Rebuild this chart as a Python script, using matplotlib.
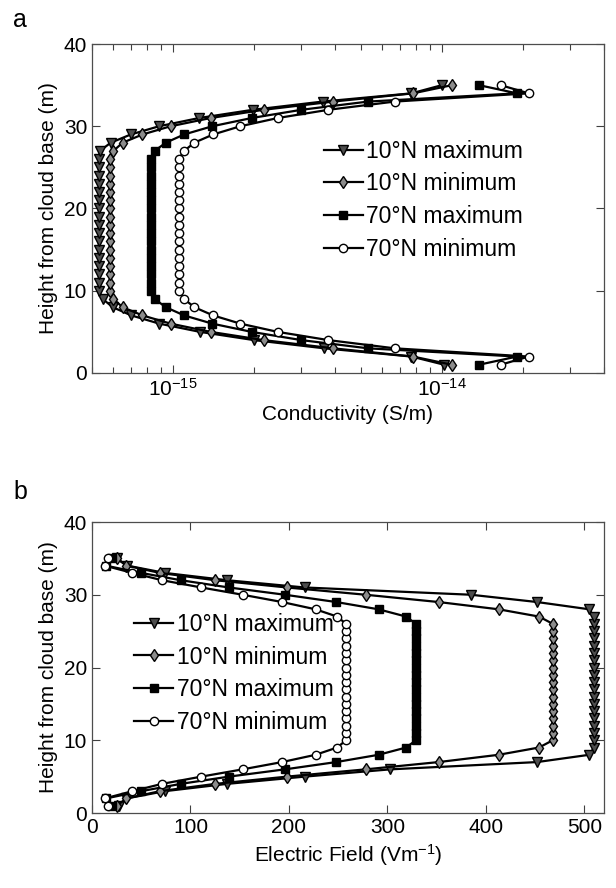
import numpy as np
import matplotlib
matplotlib.use('agg')
import matplotlib.pyplot as plt
from matplotlib.ticker import LogLocator, NullFormatter, FixedLocator

plt.rcParams['font.family'] = ['Liberation Sans', 'DejaVu Sans']
plt.rcParams['mathtext.default'] = 'regular'

height = np.arange(1, 36)  # m above cloud base

# conductivity profiles (S/m)
cond_10n_max = [1.02e-14, 7.7e-15, 3.65e-15, 2.0e-15, 1.26e-15, 8.9e-16, 7.0e-16, 5.97e-16, 5.48e-16,
                5.3e-16, 5.3e-16, 5.3e-16, 5.3e-16, 5.3e-16, 5.3e-16, 5.3e-16, 5.3e-16, 5.3e-16,
                5.3e-16, 5.3e-16, 5.3e-16, 5.3e-16, 5.3e-16, 5.3e-16, 5.3e-16, 5.3e-16,
                5.35e-16, 5.87e-16, 6.97e-16, 8.88e-16, 1.25e-15, 1.98e-15, 3.6e-15, 7.7e-15, 1.0e-14]
cond_10n_min = [1.09e-14, 7.8e-15, 3.94e-15, 2.17e-15, 1.38e-15, 9.8e-16, 7.7e-16, 6.5e-16, 6.0e-16,
                5.83e-16, 5.83e-16, 5.83e-16, 5.83e-16, 5.83e-16, 5.83e-16, 5.83e-16, 5.83e-16, 5.83e-16,
                5.83e-16, 5.83e-16, 5.83e-16, 5.83e-16, 5.83e-16, 5.83e-16, 5.83e-16, 5.83e-16,
                6.0e-16, 6.5e-16, 7.7e-16, 9.8e-16, 1.38e-15, 2.17e-15, 3.94e-15, 7.8e-15, 1.09e-14]
cond_70n_max = [1.37e-14, 1.9e-14, 5.31e-15, 3.0e-15, 1.96e-15, 1.40e-15, 1.10e-15, 9.4e-16, 8.55e-16,
                8.26e-16, 8.26e-16, 8.26e-16, 8.26e-16, 8.26e-16, 8.26e-16, 8.26e-16, 8.26e-16, 8.26e-16,
                8.26e-16, 8.26e-16, 8.26e-16, 8.26e-16, 8.26e-16, 8.26e-16, 8.26e-16, 8.26e-16,
                8.55e-16, 9.4e-16, 1.10e-15, 1.40e-15, 1.96e-15, 3.0e-15, 5.31e-15, 1.9e-14, 1.37e-14]
cond_70n_min = [1.65e-14, 2.1e-14, 6.67e-15, 3.78e-15, 2.45e-15, 1.78e-15, 1.41e-15, 1.20e-15, 1.10e-15,
                1.05e-15, 1.05e-15, 1.05e-15, 1.05e-15, 1.05e-15, 1.05e-15, 1.05e-15, 1.05e-15, 1.05e-15,
                1.05e-15, 1.05e-15, 1.05e-15, 1.05e-15, 1.05e-15, 1.05e-15, 1.05e-15, 1.05e-15,
                1.10e-15, 1.20e-15, 1.41e-15, 1.78e-15, 2.45e-15, 3.78e-15, 6.67e-15, 2.1e-14, 1.65e-14]

# electric field profiles (V/m)
efield_10n_max = [27, 35, 74, 137, 216, 303, 452, 505,
                  510, 510, 510, 510, 510, 510, 510, 510, 510, 510,
                  510, 510, 510, 510, 510, 510, 510, 510, 510,
                  505, 452, 385, 216, 137, 74, 36, 25]
efield_10n_min = [25, 35, 69, 125, 198, 278, 352, 413, 454,
                  468, 468, 468, 468, 468, 468, 468, 468, 468,
                  468, 468, 468, 468, 468, 468, 468, 468,
                  454, 413, 352, 278, 198, 125, 69, 35, 25]
efield_70n_max = [20, 14, 50, 90, 139, 196, 248, 291, 319,
                  329, 329, 329, 329, 329, 329, 329, 329, 329,
                  329, 329, 329, 329, 329, 329, 329, 329,
                  319, 291, 248, 196, 139, 90, 50, 14, 20]
efield_70n_min = [16.5, 13, 41, 71, 111, 153, 193, 227, 249,
                  258, 258, 258, 258, 258, 258, 258, 258, 258,
                  258, 258, 258, 258, 258, 258, 258, 258,
                  249, 227, 193, 153, 111, 71, 41, 13, 16.5]

labels = ['10\u00b0N maximum', '10\u00b0N minimum', '70\u00b0N maximum', '70\u00b0N minimum']
styles = [dict(marker='v', ms=6.5, mfc='0.3', mec='k'),
          dict(marker='d', ms=6.5, mfc='0.55', mec='k'),
          dict(marker='s', ms=5.5, mfc='k', mec='k'),
          dict(marker='o', ms=6, mfc='white', mec='k')]

fs = 15
leg_kw = dict(loc='center left', frameon=False, fontsize=16.5, handlelength=1.7,
              handletextpad=0.15, labelspacing=0.42, borderpad=0)

fig = plt.figure(figsize=(6.16, 8.88), dpi=100)
ax_a = fig.add_axes([92 / 616, 1 - 373 / 888, 512 / 616, 329 / 888])
ax_b = fig.add_axes([92 / 616, 1 - 813 / 888, 512 / 616, 291 / 888])


def style_axes(ax):
    ax.tick_params(which='both', direction='in', top=True, right=True, labelsize=fs,
                   color='0.25', width=0.8)
    ax.tick_params(which='major', length=6)
    ax.tick_params(which='minor', length=4)
    for s in ax.spines.values():
        s.set_color('0.3')
        s.set_linewidth(0.9)
    ax.set_ylim(0, 40)
    ax.set_yticks([0, 10, 20, 30, 40])
    ax.set_ylabel('Height from cloud base (m)', fontsize=fs)


for vals, lab, st in zip([cond_10n_max, cond_10n_min, cond_70n_max, cond_70n_min], labels, styles):
    ax_a.plot(vals, height, color='k', lw=1.6, mew=1.0, label=lab, **st)
ax_a.set_xscale('log')
ax_a.set_xlim(5e-16, 4e-14)
ax_a.xaxis.set_major_locator(FixedLocator([1e-15, 1e-14]))
ax_a.xaxis.set_minor_locator(LogLocator(base=10, subs=np.arange(2, 10), numticks=20))
ax_a.xaxis.set_minor_formatter(NullFormatter())
style_axes(ax_a)
ax_a.set_xlabel('Conductivity (S/m)', fontsize=fs)
ax_a.legend(bbox_to_anchor=(0.43, 0.525), **leg_kw)

for vals, lab, st in zip([efield_10n_max, efield_10n_min, efield_70n_max, efield_70n_min], labels, styles):
    ax_b.plot(vals, height, color='k', lw=1.6, mew=1.0, label=lab, **st)
ax_b.set_xlim(0, 520)
ax_b.set_xticks([0, 100, 200, 300, 400, 500])
style_axes(ax_b)
ax_b.set_xlabel('Electric Field (Vm$^{-1}$)', fontsize=fs)
ax_b.legend(bbox_to_anchor=(0.06, 0.48), **leg_kw)

fig.text(13 / 616, 1 - 20 / 888, 'a', fontsize=18, va='center')
fig.text(13 / 616, 1 - 492 / 888, 'b', fontsize=18, va='center')

fig.savefig('out.png', dpi=100)
